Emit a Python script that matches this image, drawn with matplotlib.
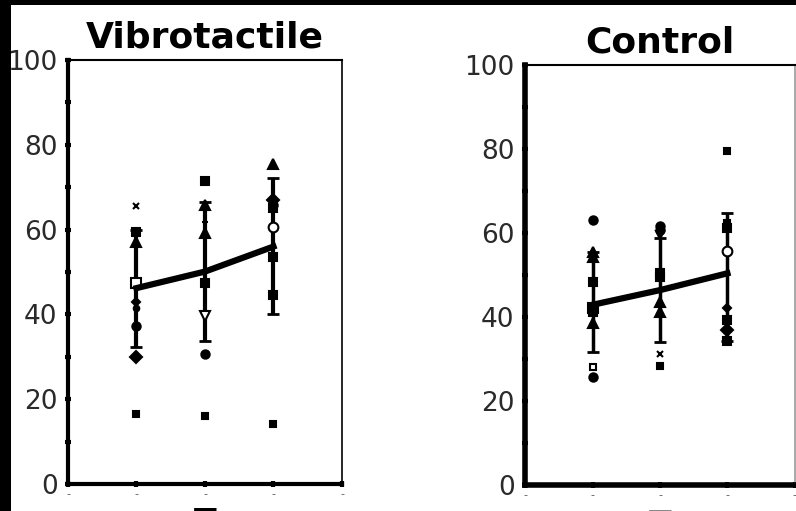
import matplotlib.pyplot as plt
from matplotlib.patches import Rectangle
from matplotlib.ticker import MultipleLocator

plt.rcParams['font.family'] = ['DejaVu Sans']

# Sessions on the x axis
sesje = [1, 2, 3]

# Vibrotactile: individual scores per session
vib_s1 = [65.6, 59.5, 57.1, 47.3, 43.0, 41.5, 37.3, 30.0, 16.4]
vib_s2 = [71.5, 65.8, 61.9, 59.3, 47.5, 39.7, 30.6, 16.1]
vib_s3 = [75.4, 67.0, 65.8, 65.0, 60.5, 53.6, 44.6, 14.1]
vib_srednia = [46.2, 50.1, 56.0]
vib_dol = [32.3, 33.8, 40.0]
vib_gora = [60.0, 66.4, 72.1]

# Control
kon_s1 = [63.1, 55.5, 54.4, 48.3, 42.1, 41.3, 38.5, 28.2, 25.6]
kon_s2 = [61.7, 60.7, 59.5, 50.4, 49.6, 43.6, 41.3, 31.3, 28.4]
kon_s3 = [79.6, 62.3, 61.1, 55.7, 42.2, 39.3, 36.9, 34.3]
kon_srednia = [42.9, 46.4, 50.4]
kon_dol = [31.7, 34.1, 34.3]
kon_gora = [55.5, 58.7, 64.7]

# marker styles for the individual points (marker, size, filled)
styl_vib = [
    [('x', 4, True), ('s', 6, True), ('^', 7, True), ('s', 7, False), ('D', 4, True),
     ('o', 4, True), ('o', 6, True), ('D', 6, True), ('s', 4, True)],
    [('s', 6, True), ('^', 7, True), ('+', 5, True), ('^', 7, True), ('s', 6, True),
     ('v', 7, False), ('o', 6, True), ('s', 4, True)],
    [('^', 7, True), ('D', 6, True), ('o', 6, True), ('s', 6, True), ('o', 7, False),
     ('s', 6, True), ('s', 6, True), ('s', 4, True)],
]
styl_kon = [
    [('o', 6, True), ('^', 7, True), ('^', 7, True), ('s', 6, True), ('s', 7, True),
     ('s', 6, True), ('^', 7, True), ('s', 4, False), ('o', 6, True)],
    [('o', 6, True), ('o', 6, True), ('v', 6, True), ('s', 6, True), ('s', 6, True),
     ('^', 7, True), ('^', 7, True), ('x', 4, True), ('s', 5, True)],
    [('s', 5, True), ('s', 5, True), ('s', 6, True), ('o', 7, False), ('D', 4, True),
     ('s', 6, True), ('D', 6, True), ('s', 6, True)],
]


def rysuj_panel(ax, punkty, style, srednia, dol, gora, lw_bar, lw_os):
    for x, wartosci, st in zip(sesje, punkty, style):
        for v, (m, s, pelny) in zip(wartosci, st):
            ax.plot(x, v, linestyle='none', marker=m, markersize=s,
                    markerfacecolor='black' if pelny else 'white',
                    markeredgecolor='black', markeredgewidth=1.5, zorder=4)
    yerr = [[m - d for m, d in zip(srednia, dol)],
            [g - m for m, g in zip(srednia, gora)]]
    ax.errorbar(sesje, srednia, yerr=yerr, fmt='none', ecolor='black',
                elinewidth=lw_bar, capsize=4, capthick=2, zorder=3)
    ax.plot(sesje, srednia, color='black', linewidth=4.5, zorder=5)

    ax.set_xlim(0, 4)
    ax.set_ylim(0, 100)
    ax.yaxis.set_major_locator(MultipleLocator(20))
    ax.yaxis.set_minor_locator(MultipleLocator(10))
    ax.xaxis.set_major_locator(MultipleLocator(1))
    ax.set_xticklabels(['-'] * len(ax.get_xticks()))
    ax.tick_params(axis='y', which='both', direction='inout', length=5, width=3,
                   color='black', labelsize=19, labelcolor='#2a2a2a', pad=5)
    ax.tick_params(axis='x', which='both', direction='inout', length=5, width=3,
                   color='black', labelsize=8, labelcolor='#555555', pad=1)
    ax.spines['left'].set_linewidth(lw_os)
    ax.spines['bottom'].set_linewidth(lw_os)
    ax.spines['top'].set_linewidth(1.5)
    ax.spines['right'].set_linewidth(1.2)
    ax.set_facecolor('white')


fig = plt.figure(figsize=(7.96, 5.11), dpi=100)
fig.patch.set_alpha(0.0)

ax1 = fig.add_axes([0.0854, 0.0528, 0.3442, 0.8298])
ax2 = fig.add_axes([0.6596, 0.0509, 0.3390, 0.8219])

rysuj_panel(ax1, [vib_s1, vib_s2, vib_s3], styl_vib, vib_srednia, vib_dol, vib_gora, 3, 3)
rysuj_panel(ax2, [kon_s1, kon_s2, kon_s3], styl_kon, kon_srednia, kon_dol, kon_gora, 2.5, 4)
ax2.spines['right'].set_color('#999999')

ax1.set_title('Vibrotactile', fontsize=26, fontweight='bold', pad=9)
ax2.set_title('Control', fontsize=26, fontweight='bold', pad=9)

ax1.set_xlabel('T', fontsize=24, fontweight='bold')
ax1.xaxis.set_label_coords(0.5, -0.054)
ax2.set_xlabel('T', fontsize=24, fontweight='bold', color='#888888')
ax2.xaxis.set_label_coords(0.5, -0.058)

# black strips at the left and top edge
fig.add_artist(Rectangle((0, 0), 11 / 796, 1, transform=fig.transFigure,
                         facecolor='black', edgecolor='none', zorder=10))
fig.add_artist(Rectangle((0, 1 - 5 / 511), 1, 5 / 511, transform=fig.transFigure,
                         facecolor='black', edgecolor='none', zorder=10))

fig.savefig('out.png', dpi=100, transparent=False)
